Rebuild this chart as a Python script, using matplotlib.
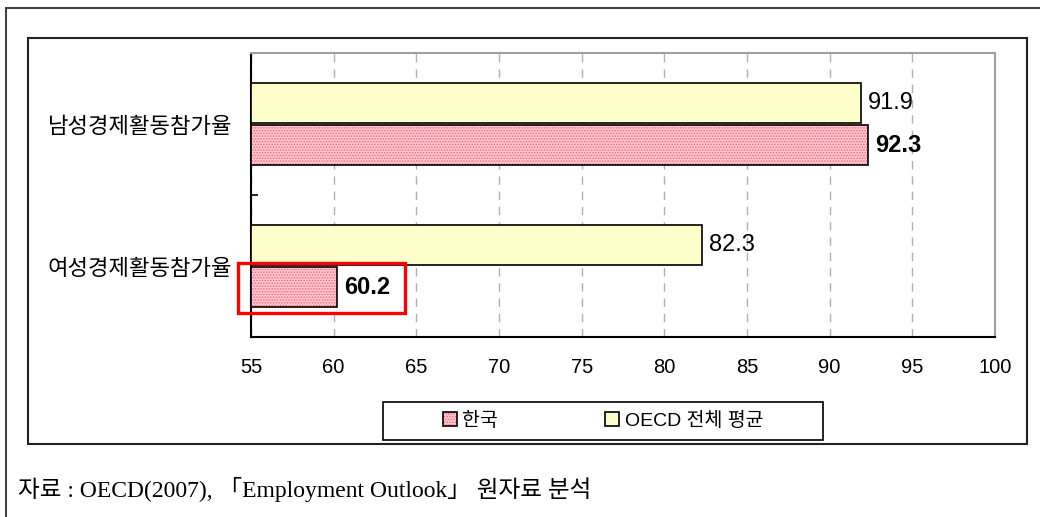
import matplotlib
matplotlib.use("Agg")
import matplotlib.pyplot as plt
import matplotlib.patches as mpatches
from matplotlib.legend_handler import HandlerTuple

# data
categories = ["여성경제활동참가율", "남성경제활동참가율"]
korea = [60.2, 92.3]
oecd = [82.3, 91.9]
series_names = ["한국", "OECD 전체 평균"]
xticks = [55, 60, 65, 70, 75, 80, 85, 90, 95, 100]
caption = "자료 : OECD(2007), 「Employment Outlook」 원자료 분석"

W, H = 1040, 517
plt.rcParams["font.family"] = ["Liberation Sans", "Noto Sans CJK KR"]
plt.rcParams["hatch.color"] = "#f26a7c"
plt.rcParams["hatch.linewidth"] = 0.7


def fx(px):
    return px / W


def fy(py):
    return 1 - py / H


fig = plt.figure(figsize=(W / 100, H / 100), dpi=100)
ax = fig.add_axes([fx(251), fy(337), fx(995) - fx(251), fy(53) - fy(337)])

pos = list(range(len(categories)))
h = 0.28
off = 0.15
ypos_k = [p - off for p in pos]
ypos_o = [p + off for p in pos]

k_fill = ax.barh(ypos_k, [v - 55 for v in korea], left=55, height=h,
                 color="#ffc4cc", hatch="......", edgecolor=None, linewidth=0, zorder=3)
k_edge = ax.barh(ypos_k, [v - 55 for v in korea], left=55, height=h,
                 fill=False, edgecolor="black", linewidth=1.2, zorder=4)
o_bar = ax.barh(ypos_o, [v - 55 for v in oecd], left=55, height=h,
                color="#ffffcc", edgecolor="black", linewidth=1.2, zorder=3)

for y, v in zip(ypos_o, oecd):
    ax.annotate(f"{v:.1f}", (v, y), xytext=(5, 0), textcoords="offset points",
                ha="left", va="center", fontsize=17, zorder=5)
for y, v in zip(ypos_k, korea):
    ax.annotate(f"{v:.1f}", (v, y), xytext=(5, 0), textcoords="offset points",
                ha="left", va="center", fontsize=17, fontweight="bold", zorder=5)

ax.set_xlim(55, 100)
ax.set_ylim(-0.5, 1.5)
ax.set_xticks(xticks)
ax.set_xticklabels([str(t) for t in xticks], fontsize=14.5)
ax.tick_params(axis="x", length=0, pad=15)
ax.set_yticks(pos)
ax.set_yticklabels(categories, fontsize=16, family=["Noto Sans CJK KR"])
for lab in ax.get_yticklabels():
    lab.set_ha("center")
ax.tick_params(axis="y", length=0, pad=80)
ax.set_yticks([-0.5, 0.5, 1.5], minor=True)
ax.tick_params(axis="y", which="minor", direction="in", length=5, width=1.2, color="black")

ax.grid(axis="x", color="#b0b0b0", linestyle=(0, (6, 5)), linewidth=1, zorder=1)
ax.spines["left"].set_color("black")
ax.spines["left"].set_linewidth(1.5)
ax.spines["bottom"].set_color("black")
ax.spines["bottom"].set_linewidth(1.5)
ax.spines["top"].set_color("#a0a0a0")
ax.spines["right"].set_color("#a0a0a0")
ax.spines["top"].set_linewidth(1.5)
ax.spines["right"].set_linewidth(1.5)

# red highlight box around the female Korea bar
x0 = 55 - 13 / 16.53
x1 = 55 + (405 - 251) / 16.53
y0 = 1.5 - (313 - 53) / 142
y1 = 1.5 - (263 - 53) / 142
ax.add_patch(mpatches.Rectangle((x0, y0), x1 - x0, y1 - y0, fill=False,
                                edgecolor="red", linewidth=2.4, clip_on=False, zorder=6))

# legend
leg = fig.legend([(k_fill[0], k_edge[0]), o_bar[0]], series_names,
                 handler_map={tuple: HandlerTuple(ndivide=1, pad=0)},
                 loc="center", bbox_to_anchor=(fx(603), fy(421)), ncol=2,
                 frameon=False, fontsize=14, handlelength=0.7, handleheight=0.7,
                 handletextpad=0.3, columnspacing=5.5, borderpad=0)
fig.add_artist(mpatches.Rectangle((fx(383), fy(440)), fx(823) - fx(383), fy(402) - fy(440),
                                  transform=fig.transFigure, fill=False,
                                  edgecolor="black", linewidth=1.2))

# chart frame and outer page frame
fig.add_artist(mpatches.Rectangle((fx(28), fy(444)), fx(1027) - fx(28), fy(38) - fy(444),
                                  transform=fig.transFigure, fill=False,
                                  edgecolor="#222222", linewidth=1.5))
fig.add_artist(mpatches.Rectangle((fx(6), fy(530)), fx(1060) - fx(6), fy(8) - fy(530),
                                  transform=fig.transFigure, fill=False,
                                  edgecolor="#444444", linewidth=1.5, clip_on=False))

fig.text(fx(18), fy(490), caption, ha="left", va="center", fontsize=17,
         family=["Liberation Serif", "Noto Sans CJK KR"])

fig.savefig("out.png", dpi=100)
